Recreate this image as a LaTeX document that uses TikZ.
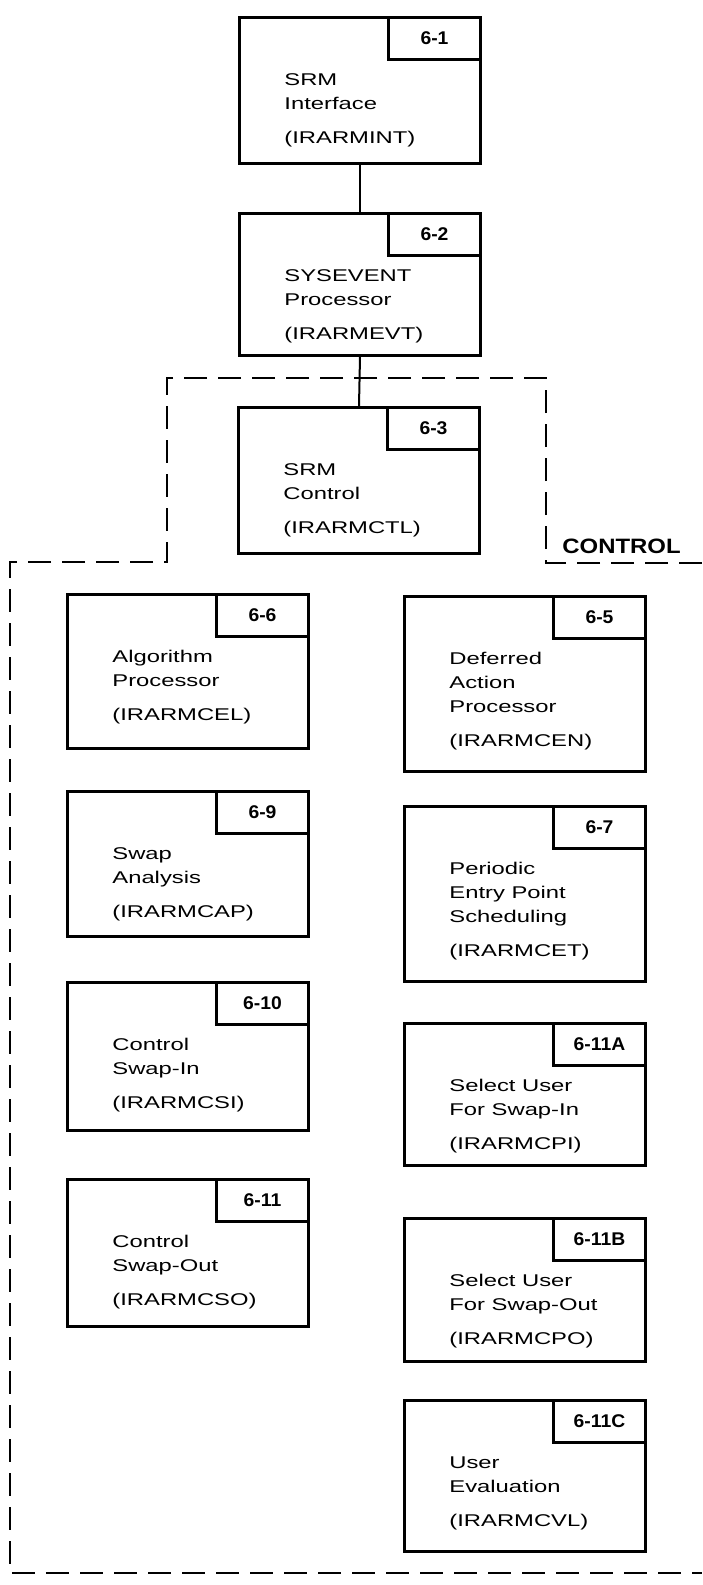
\documentclass[tikz,border=0pt]{standalone}
\usepackage{fontspec}
\setmainfont[FakeStretch=1.4]{Liberation Sans}
\newfontfamily\tagf[FakeStretch=1.05]{Liberation Sans}
\newfontfamily\ctlf[FakeStretch=1.15]{Liberation Sans}
\tikzset{
  box/.style={draw, line width=1.5pt, anchor=north west, inner sep=0pt, minimum width=120.5pt},
  tagbox/.style={draw, line width=1.5pt, anchor=north east, inner sep=0pt, minimum width=46pt,
    minimum height=21pt, font=\tagf\bfseries\fontsize{9.2}{10}\selectfont},
  body/.style={anchor=base west, inner sep=0pt, font=\fontsize{8.5}{12}\selectfont},
  link/.style={line width=1pt},
  region/.style={line width=1pt, dash pattern=on 11.5pt off 5.5pt},
  regionlabel/.style={anchor=base west, inner sep=0pt, font=\ctlf\bfseries\fontsize{10.4}{12}\selectfont},
}
\newcommand\modbox[7]{%
  \node[box, minimum height=#4*0.5pt] (#1) at (#2,#3) {};
  \node[tagbox] (#1tag) at (#1.north east) {#5};
  \node[body] (#1txt) at ([xshift=23pt,yshift=-34.5pt]#1.north west)
    {\begin{tabular}[t]{@{}l@{}}#6\\[5pt]#7\end{tabular}};
}
\begin{document}
\begin{tikzpicture}[x=0.5pt, y=-0.5pt]
\useasboundingbox (0,0) rectangle (702,1585);
\modbox{n1}{238}{16}{146}{6-1}{SRM\\Interface}{(IRARMINT)}
\modbox{n2}{238}{212}{142}{6-2}{SYSEVENT\\Processor}{(IRARMEVT)}
\modbox{n3}{237}{406}{146}{6-3}{SRM\\Control}{(IRARMCTL)}
\modbox{n6}{66}{593}{154}{6-6}{Algorithm\\Processor}{(IRARMCEL)}
\modbox{n9}{66}{790}{145}{6-9}{Swap\\Analysis}{(IRARMCAP)}
\modbox{n10}{66}{981}{148}{6-10}{Control\\Swap-In}{(IRARMCSI)}
\modbox{n11}{66}{1178}{147}{6-11}{Control\\Swap-Out}{(IRARMCSO)}
\modbox{n5}{403}{595}{175}{6-5}{Deferred\\Action\\Processor}{(IRARMCEN)}
\modbox{n7}{403}{805}{175}{6-7}{Periodic\\Entry Point\\Scheduling}{(IRARMCET)}
\modbox{n11a}{403}{1022}{142}{6-11A}{Select User\\For Swap-In}{(IRARMCPI)}
\modbox{n11b}{403}{1217}{143}{6-11B}{Select User\\For Swap-Out}{(IRARMCPO)}
\modbox{n11c}{403}{1399}{151}{6-11C}{User\\Evaluation}{(IRARMCVL)}
\draw[link] (n1.south) -- (n2.north);
\draw[link] (n2.south) -- (n3.north);
\coordinate (r0) at (702,563);
\coordinate (r1) at (702,1573);
\draw[region] (r0) -- (546,563) -- (546,378) -- (167,378) -- (167,562) -- (10,562) -- (10,1573) -- (r1);
\node[regionlabel] (ctl) at (562,553) {CONTROL};
\end{tikzpicture}
\end{document}
